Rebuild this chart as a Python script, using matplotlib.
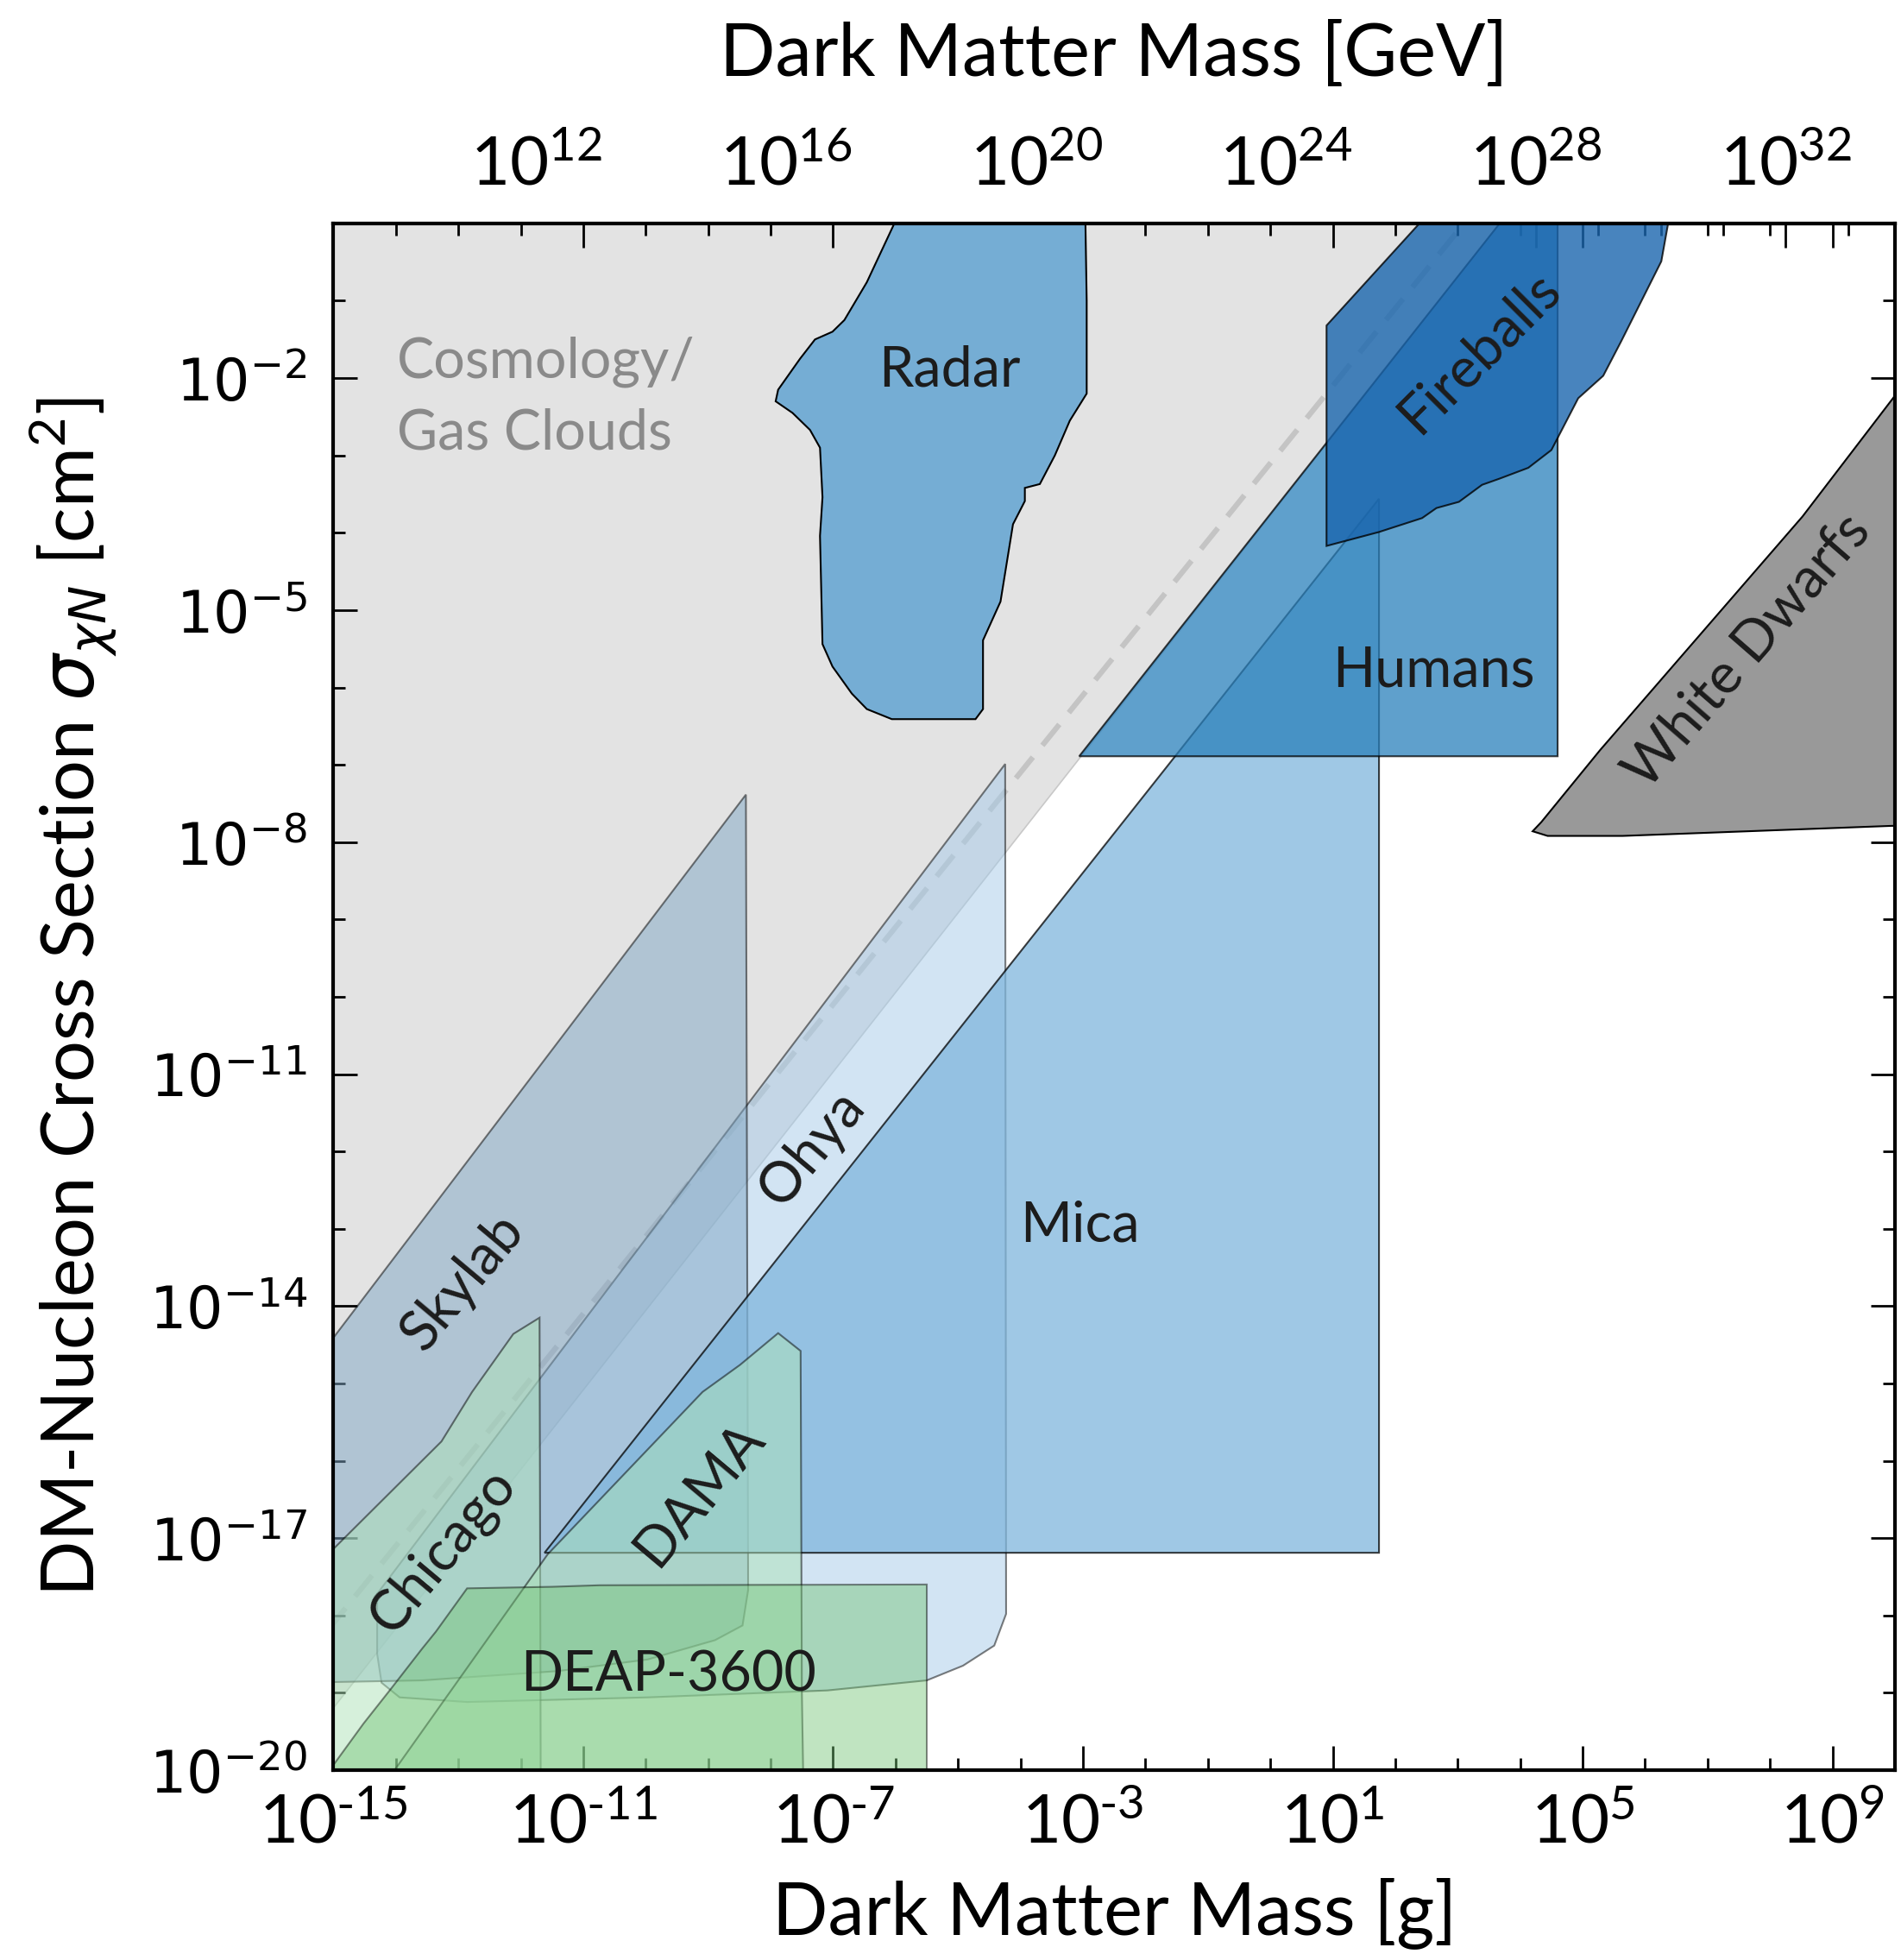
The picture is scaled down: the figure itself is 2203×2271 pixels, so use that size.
import numpy as np
import matplotlib.pyplot as plt
from matplotlib.ticker import FixedLocator, NullFormatter

plt.rcParams['font.family'] = 'Lato'
plt.rcParams['mathtext.fontset'] = 'dejavusans'

GEV_PER_G = 5.61e23

# region outlines: log10(mass / g), log10(sigma / cm^2)
cosmo_m = [-15.5, 4.16, -15.5]
cosmo_s = [-19.71, 0.5, 0.5]

dash_m = [-15.5, 4.0]
dash_s = [-18.6, 0.9]

ohya_m = [-14.30, -4.245, -4.23, -4.42, -4.92, -5.50, -7.09, -9.97, -12.86, -13.94, -14.23, -14.30]
ohya_s = [-17.72, -6.99, -17.98, -18.39, -18.65, -18.84, -18.97, -19.06, -19.12, -19.06, -18.87, -18.50]

skylab_m = [-15.5, -8.396, -8.36, -8.45, -8.89, -9.97, -11.41, -12.86, -13.58, -15.5]
skylab_s = [-14.94, -7.386, -17.67, -18.13, -18.32, -18.57, -18.72, -18.80, -18.84, -18.87]

mica_m = [-11.62, 1.74, 1.74]
mica_s = [-17.19, -3.56, -17.19]

humans_m = [-3.06, 4.16, 4.60, 4.60]
humans_s = [-6.89, 0.5, 0.5, -6.89]

radar_m = [-5.73, -6.46, -6.82, -7.01, -7.29, -7.53, -7.88, -7.92, -7.65, -7.37, -7.21,
           -7.17, -7.21, -7.17, -7.01, -6.70, -6.46, -6.06, -4.72, -4.60, -4.60, -4.32,
           -4.12, -3.93, -3.93, -3.69, -3.45, -3.21, -2.94, -2.94, -2.97]
radar_s = [0.5, -0.76, -1.25, -1.40, -1.50, -1.75, -2.15, -2.30, -2.45, -2.67, -2.90,
           -3.54, -4.04, -5.44, -5.73, -6.08, -6.28, -6.41, -6.41, -6.28, -5.39, -4.89,
           -3.89, -3.59, -3.42, -3.37, -3.00, -2.55, -2.20, -1.00, 0.5]

fireballs_m = [0.90, 0.90, 2.95, 6.48, 6.26, 5.62, 5.33, 4.93, 4.50, 4.13, 3.67, 3.39,
               3.02, 2.66, 2.43, 1.74, 0.90]
fireballs_s = [-4.17, -1.32, 0.5, 0.5, -0.49, -1.52, -1.97, -2.26, -2.93, -3.16, -3.30,
               -3.38, -3.60, -3.68, -3.81, -3.99, -4.17]

chicago_m = [-15.5, -15.0, -13.27, -12.78, -12.12, -11.70, -11.68, -15.5]
chicago_s = [-17.70, -17.14, -15.75, -15.11, -14.36, -14.15, -20.5, -20.5]

dama_m = [-14.46, -11.57, -9.09, -8.49, -7.88, -7.52, -7.50, -7.47]
dama_s = [-20.5, -17.21, -15.11, -14.76, -14.35, -14.58, -19.0, -20.5]

deap_m = [-15.5, -14.97, -14.52, -14.08, -13.58, -13.36, -12.86, -11.5, -10.74, -5.50, -5.50]
deap_s = [-20.48, -19.90, -19.40, -18.95, -18.43, -18.21, -17.65, -17.63, -17.61, -17.60, -20.5]

wd_m = [4.20, 4.34, 5.28, 8.52, 10.5, 10.5, 9.95, 7.64, 5.64, 4.44]
wd_s = [-7.86, -7.74, -6.81, -3.79, -1.70, -7.79, -7.79, -7.86, -7.92, -7.92]

# labels: text, log10 m, log10 sigma, rotation
labels = [
    ('Radar', -5.14, -1.90, 0),
    ('Fireballs', 3.35, -1.66, 45),
    ('Humans', 2.61, -5.78, 0),
    ('White Dwarfs', 7.64, -5.53, 49),
    ('Mica', -3.05, -12.96, 0),
    ('Ohya', -7.34, -11.96, 50),
    ('Skylab', -12.93, -13.69, 50),
    ('Chicago', -13.24, -17.16, 50),
    ('DAMA', -9.14, -16.43, 50),
    ('DEAP-3600', -9.64, -18.77, 0),
]

xmaj = [-15, -11, -7, -3, 1, 5, 9]
ymaj = [-20, -17, -14, -11, -8, -5, -2]
gev_maj = [12, 16, 20, 24, 28, 32]


def region(ax, m, s, fc, alpha, z, ec='k', lw=1.5):
    ax.fill(10.0 ** np.array(m), 10.0 ** np.array(s), fc=fc, ec=ec, lw=lw,
            alpha=alpha, zorder=z)


def sup_label(e):
    if e < 0:
        return r'$\mathregular{10^{\text{-}%d}}$' % (-e)
    return r'$\mathregular{10^{%d}}$' % e


fig = plt.figure(figsize=(22.03, 22.71), dpi=100)
ax = fig.add_axes([0.1754, 0.0969, 0.8214, 0.7891])
ax.set_xscale('log')
ax.set_yscale('log')

region(ax, cosmo_m, cosmo_s, '#e3e3e3', 1.0, 1, ec='#c8c8c8', lw=1.2)
ax.plot(10.0 ** np.array(dash_m), 10.0 ** np.array(dash_s), color='#c4c4c4', lw=4.5,
        dashes=(5, 2.8), zorder=1.5)
region(ax, ohya_m, ohya_s, '#a6cbe9', 0.5, 2)
region(ax, skylab_m, skylab_s, '#7fa6c4', 0.5, 3)
region(ax, mica_m, mica_s, '#7fb6dd', 0.75, 4)
region(ax, humans_m, humans_s, '#2a80bb', 0.75, 5)
region(ax, radar_m, radar_s, '#75add4', 1.0, 6)
region(ax, fireballs_m, fireballs_s, '#1a66ae', 0.8, 7)
region(ax, chicago_m, chicago_s, '#aee3b8', 0.5, 8)
region(ax, dama_m, dama_s, '#aee3b8', 0.5, 9)
region(ax, deap_m, deap_s, '#74c476', 0.45, 10)
region(ax, wd_m, wd_s, '#999999', 1.0, 11)

for txt, lm, ls, rot in labels:
    ax.text(10.0 ** lm, 10.0 ** ls, txt, fontsize=46.5, color='#1c1c1c', rotation=rot,
            ha='center', va='center', zorder=20, rotation_mode='anchor')
ax.text(10.0 ** -13.98, 10.0 ** -2.25, 'Cosmology/\nGas Clouds', fontsize=46.5,
        color='#8a8a8a', ha='left', va='center', linespacing=1.5, zorder=20)

ax.set_xlim(1e-15, 1e10)
ax.set_ylim(1e-20, 1)

ax.xaxis.set_major_locator(FixedLocator(10.0 ** np.array(xmaj)))
ax.xaxis.set_minor_locator(FixedLocator(10.0 ** np.arange(-15, 11)))
ax.xaxis.set_minor_formatter(NullFormatter())
ax.set_xticklabels([sup_label(e) for e in xmaj])
ax.yaxis.set_major_locator(FixedLocator(10.0 ** np.array(ymaj)))
ax.yaxis.set_minor_locator(FixedLocator(10.0 ** np.arange(-20, 1)))
ax.yaxis.set_minor_formatter(NullFormatter())
ax.set_yticklabels([r'$10^{%d}$' % e for e in ymaj])

ax.tick_params(which='both', direction='in', top=True, right=True, width=2)
ax.tick_params(which='major', length=20)
ax.tick_params(which='minor', length=10)
ax.tick_params(axis='x', labelsize=56, pad=20)
ax.tick_params(axis='y', labelsize=48, pad=22)
for sp in ax.spines.values():
    sp.set_linewidth(3)
    sp.set_zorder(30)

ax.set_xlabel('Dark Matter Mass [g]', fontsize=61, labelpad=18)
ax.set_ylabel(r'DM-Nucleon Cross Section $\sigma_{\chi N}$ [cm$^{\mathregular{2}}$]',
              fontsize=61, labelpad=26)

sec = ax.secondary_xaxis('top', functions=(lambda m: m * GEV_PER_G,
                                           lambda e: e / GEV_PER_G))
sec.xaxis.set_major_locator(FixedLocator(10.0 ** np.array(gev_maj)))
sec.xaxis.set_minor_locator(FixedLocator(10.0 ** np.arange(8, 35)))
sec.xaxis.set_minor_formatter(NullFormatter())
sec.set_xticklabels([sup_label(e) for e in gev_maj])
sec.tick_params(which='both', direction='in', width=2)
sec.tick_params(which='major', length=20, labelsize=56, pad=22)
sec.tick_params(which='minor', length=10)
sec.set_xlabel('Dark Matter Mass [GeV]', fontsize=61, labelpad=50)
sec.spines['top'].set_linewidth(3)

fig.savefig('out.png', dpi=100)
